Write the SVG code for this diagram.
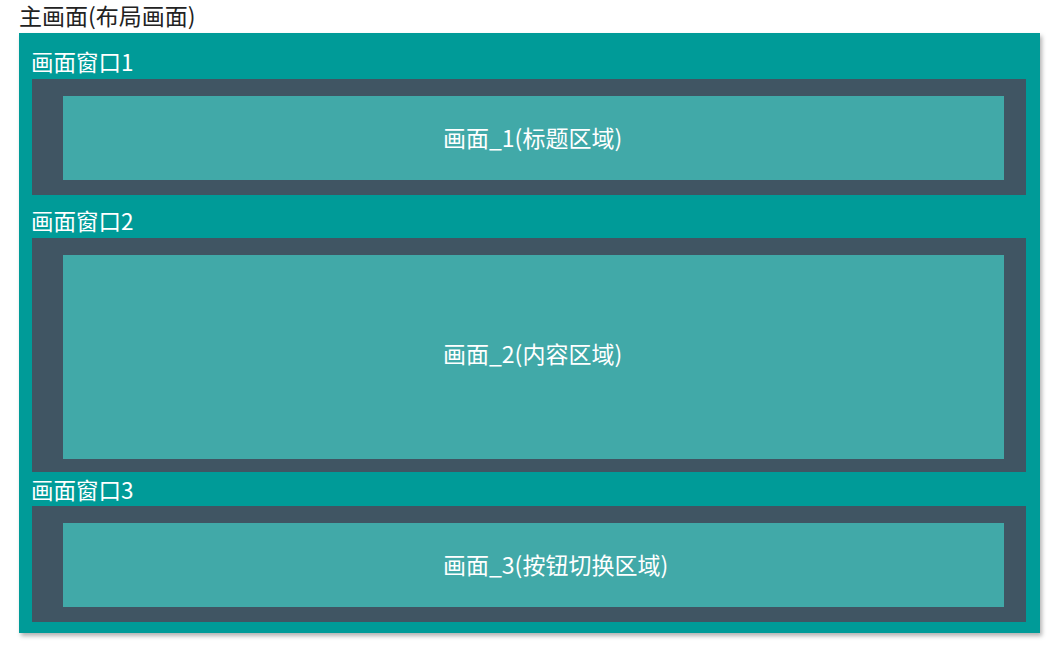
<svg xmlns="http://www.w3.org/2000/svg" width="1048" height="646" viewBox="0 0 1048 646">
<defs>
<filter id="sh" x="-5%" y="-5%" width="110%" height="110%">
<feDropShadow dx="2" dy="3" stdDeviation="2" flood-color="#000" flood-opacity="0.3"/>
</filter>
<style>
.t{font-family:"Noto Sans CJK SC","Noto Sans",sans-serif;}
.title{font-size:23px;fill:#222;}
.lbl{font-size:22.5px;fill:#fff;}
.ctr{font-size:23px;fill:#fff;dominant-baseline:central;}
.win{fill:#405563;}
.scr{fill:#41A9A8;}
</style>
</defs>
<rect width="1048" height="646" fill="#fff"/>
<text class="t title" x="19" y="25">主画面(布局画面)</text>
<g id="main">
<rect x="19" y="33" width="1021" height="600" fill="#009B98" filter="url(#sh)"/>
</g>
<g id="window1">
<text class="t lbl" x="31" y="71">画面窗口1</text>
<rect class="win" x="32" y="79" width="994" height="116"/>
</g>
<g id="screen1">
<rect class="scr" x="63" y="96" width="941" height="84"/>
<text class="t ctr" x="443" y="137">画面_1(标题区域)</text>
</g>
<g id="window2">
<text class="t lbl" x="31" y="230">画面窗口2</text>
<rect class="win" x="32" y="238" width="994" height="234"/>
</g>
<g id="screen2">
<rect class="scr" x="63" y="255" width="941" height="204"/>
<text class="t ctr" x="443" y="353">画面_2(内容区域)</text>
</g>
<g id="window3">
<text class="t lbl" x="31" y="499">画面窗口3</text>
<rect class="win" x="32" y="506" width="994" height="116"/>
</g>
<g id="screen3">
<rect class="scr" x="63" y="523" width="941" height="84"/>
<text class="t ctr" x="443" y="564">画面_3(按钮切换区域)</text>
</g>
<g id="connectors"></g>
</svg>
